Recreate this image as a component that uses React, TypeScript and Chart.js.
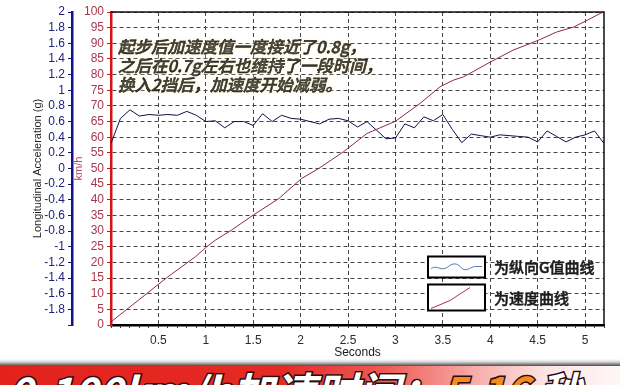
import React, { useEffect, useRef } from 'react';
import { Chart, registerables } from 'chart.js';

Chart.register(...registerables);

// Longitudinal acceleration samples (g), one every 0.1 s
const accelTimes = [
  0, 0.1, 0.2, 0.3, 0.4, 0.5, 0.6, 0.7, 0.8, 0.9,
  1.0, 1.1, 1.2, 1.3, 1.4, 1.5, 1.6, 1.7, 1.8, 1.9,
  2.0, 2.1, 2.2, 2.3, 2.4, 2.5, 2.6, 2.7, 2.8, 2.9,
  3.0, 3.1, 3.2, 3.3, 3.4, 3.5, 3.6, 3.7, 3.8, 3.9,
  4.0, 4.1, 4.2, 4.3, 4.4, 4.5, 4.6, 4.7, 4.8, 4.9,
  5.0, 5.1, 5.2,
];
const accelValues = [
  0.32, 0.64, 0.75, 0.67, 0.69, 0.68, 0.69, 0.68, 0.73, 0.68,
  0.60, 0.61, 0.52, 0.60, 0.60, 0.55, 0.70, 0.60, 0.68, 0.64,
  0.63, 0.60, 0.57, 0.63, 0.64, 0.61, 0.53, 0.60, 0.49, 0.38,
  0.39, 0.57, 0.52, 0.66, 0.61, 0.69, 0.50, 0.33, 0.44, 0.42,
  0.40, 0.43, 0.42, 0.41, 0.40, 0.34, 0.48, 0.41, 0.34, 0.40,
  0.43, 0.48, 0.32,
];

// Vehicle speed (km/h) against time (s)
const speedTimes = [
  0, 0.38, 0.6, 0.89, 1.01, 1.1, 1.27, 1.5, 1.77, 2.01, 2.19, 2.45,
  2.7, 2.8, 3.0, 3.26, 3.47, 3.61, 3.72, 4.0, 4.24, 4.51, 4.7, 4.88, 5.02, 5.19,
];
const speedValues = [
  1, 10.1, 15.4, 21.8, 25.0, 27.1, 30.3, 35.1, 40.4, 46.8, 50.0, 55.3,
  61.2, 62.5, 65.1, 70.8, 76.1, 78.2, 79.3, 84.0, 87.8, 91.0, 93.6, 95.2, 97.3, 100,
];

const xTitle = 'Seconds';
const accelTitle = 'Longitudinal Acceleration (g)';
const speedTitle = 'km/h';

const noteLines = [
  '起步后加速度值一度接近了0.8g，',
  '之后在0.7g左右也维持了一段时间，',
  '换入2挡后，加速度开始减弱。',
];
const legendLabels = ['为纵向G值曲线', '为速度曲线'];

const bannerLead = '0-100km/h加速时间：';
const bannerValue = '5.16';
const bannerUnit = '秒';

const FONT = '"Liberation Sans", Arial, sans-serif';
const CJK = '"Noto Sans CJK SC", sans-serif';

const isHalfStep = (v: number) => Math.abs(v * 2 - Math.round(v * 2)) < 1e-6;

const overlayPlugin = {
  id: 'overlay',
  afterDraw(chart: any) {
    const { ctx, chartArea: a } = chart;
    ctx.save();

    // top and right frame of the plot
    ctx.strokeStyle = '#111';
    ctx.lineWidth = 1.5;
    ctx.beginPath();
    ctx.moveTo(a.left, a.top);
    ctx.lineTo(a.right, a.top);
    ctx.lineTo(a.right, a.bottom);
    ctx.stroke();

    // commentary block
    ctx.font = `italic 500 16.5px ${CJK}`;
    ctx.textBaseline = 'middle';
    ctx.textAlign = 'left';
    ctx.shadowColor = 'rgba(255, 246, 200, 0.9)';
    ctx.shadowBlur = 4;
    ctx.fillStyle = '#141414';
    ctx.strokeStyle = '#141414';
    ctx.lineWidth = 0.45;
    noteLines.forEach((t, i) => {
      const y = a.top + 34.5 + i * 19;
      ctx.fillText(t, a.left + 7, y);
      ctx.strokeText(t, a.left + 7, y);
    });
    ctx.shadowBlur = 0;
    ctx.shadowColor = 'transparent';

    // legend key boxes
    const bx = a.left + 317;
    const bw = 57;
    const boxes = [
      { y: a.top + 244.5, h: 21 },
      { y: a.top + 272.5, h: 26 },
    ];
    boxes.forEach((b, i) => {
      ctx.fillStyle = '#fff';
      ctx.fillRect(bx, b.y, bw, b.h);
      ctx.strokeStyle = '#000';
      ctx.lineWidth = 2;
      ctx.strokeRect(bx, b.y, bw, b.h);

      ctx.lineWidth = 1;
      if (i === 0) {
        const cy = b.y + 11;
        ctx.strokeStyle = '#4d7fb8';
        ctx.beginPath();
        ctx.moveTo(bx + 3, cy + 1);
        ctx.bezierCurveTo(bx + 9, cy - 3, bx + 13, cy + 4, bx + 19, cy);
        ctx.bezierCurveTo(bx + 25, cy - 5, bx + 29, cy - 5, bx + 34, cy + 1);
        ctx.bezierCurveTo(bx + 39, cy + 5, bx + 44, cy - 2, bx + 48, cy - 1);
        ctx.lineTo(bx + bw - 3, cy - 1);
        ctx.stroke();
      } else {
        ctx.strokeStyle = '#b03048';
        ctx.beginPath();
        ctx.moveTo(bx + 3, b.y + b.h - 2);
        ctx.lineTo(bx + 22, b.y + b.h - 10);
        ctx.lineTo(bx + 42, b.y + 3);
        ctx.stroke();
      }

      ctx.font = `500 15px ${CJK}`;
      ctx.fillStyle = '#1c1c1c';
      ctx.strokeStyle = '#1c1c1c';
      ctx.lineWidth = 0.5;
      ctx.textBaseline = 'middle';
      ctx.fillText(legendLabels[i], bx + bw + 9, b.y + b.h / 2 + 0.5);
      ctx.strokeText(legendLabels[i], bx + bw + 9, b.y + b.h / 2 + 0.5);
    });

    ctx.restore();
  },
};

export default function App() {
  const canvasRef = useRef<HTMLCanvasElement | null>(null);

  useEffect(() => {
    const canvas = canvasRef.current;
    if (!canvas) return;

    const chart = new Chart(canvas, {
      type: 'line',
      data: {
        datasets: [
          {
            label: legendLabels[0],
            data: accelTimes.map((t, i) => ({ x: t, y: accelValues[i] })),
            yAxisID: 'accel',
            borderColor: '#10104a',
            borderWidth: 1,
            pointRadius: 0,
            tension: 0,
          },
          {
            label: legendLabels[1],
            data: speedTimes.map((t, i) => ({ x: t, y: speedValues[i] })),
            yAxisID: 'speed',
            borderColor: '#8c2a4a',
            borderWidth: 1,
            pointRadius: 0,
            tension: 0,
          },
        ],
      },
      options: {
        responsive: false,
        animation: false,
        events: [],
        layout: { padding: { left: 0, top: 12, right: 16, bottom: 25 } },
        plugins: {
          legend: { display: false },
          tooltip: { enabled: false },
        },
        scales: {
          x: {
            type: 'linear',
            min: 0,
            max: 5.2,
            afterFit: (s: any) => {
              s.height = 35;
            },
            ticks: {
              stepSize: 0.1,
              autoSkip: false,
              maxRotation: 0,
              padding: 5,
              color: '#2a2a2a',
              font: { family: FONT, size: 12 },
              callback: (v: any) => {
                const n = Number(v);
                if (n === 0 || !isHalfStep(n)) return '';
                return String(Math.round(n * 10) / 10);
              },
            },
            grid: {
              color: (c: any) =>
                c.tick && isHalfStep(c.tick.value) ? '#444' : 'transparent',
              lineWidth: 1,
              tickColor: '#333',
              tickLength: 3,
            },
            border: { color: '#000', width: 2.5, dash: [4, 3] },
            title: {
              display: true,
              text: xTitle,
              color: '#1a1a1a',
              font: { family: FONT, size: 12 },
              padding: { top: 0, bottom: 0 },
            },
          },
          speed: {
            type: 'linear',
            position: 'left',
            weight: 0,
            min: 0,
            max: 100,
            afterFit: (s: any) => {
              s.width = 39;
            },
            ticks: {
              stepSize: 5,
              autoSkip: false,
              padding: 3,
              color: '#a8384c',
              font: { family: FONT, size: 12 },
            },
            grid: {
              color: '#444',
              lineWidth: 1,
              tickColor: '#d01818',
              tickLength: 4,
            },
            border: { color: '#d41414', width: 2.5, dash: [4, 3] },
            title: {
              display: true,
              text: speedTitle,
              color: '#b04458',
              font: { family: FONT, size: 11 },
              padding: { top: 0, bottom: 0 },
            },
          },
          accel: {
            type: 'linear',
            position: 'left',
            weight: 1,
            min: -2,
            max: 2,
            afterFit: (s: any) => {
              s.width = 72;
            },
            ticks: {
              stepSize: 0.2,
              autoSkip: false,
              padding: 3,
              color: '#23237a',
              font: { family: FONT, size: 12 },
              callback: (v: any) => {
                const n = Math.round(Number(v) * 10) / 10;
                if (n === -2) return '';
                return String(n);
              },
            },
            grid: {
              drawOnChartArea: false,
              color: '#14148c',
              tickColor: '#14148c',
              tickLength: 4,
            },
            border: { color: '#12128a', width: 2.5 },
            title: {
              display: true,
              text: accelTitle,
              color: '#1f1f1f',
              font: { family: FONT, size: 11 },
              padding: { top: 31, bottom: 0 },
            },
          },
        },
      },
      plugins: [overlayPlugin],
    } as any);

    return () => chart.destroy();
  }, []);

  const stroke: React.CSSProperties = {
    WebkitTextStroke: '3px #2a0c0c',
    paintOrder: 'stroke fill',
  } as React.CSSProperties;

  return (
    <div
      style={{
        position: 'fixed',
        left: 0,
        top: 0,
        width: 620,
        height: 385,
        background: '#fff',
        overflow: 'hidden',
      }}
    >
      <canvas
        ref={canvasRef}
        width={620}
        height={385}
        style={{ display: 'block', position: 'absolute', left: 0, top: 0 }}
      />
      <div
        style={{
          position: 'absolute',
          left: 0,
          top: 359,
          width: 620,
          height: 26,
          overflow: 'hidden',
        }}
      >
        <div
          style={{
            position: 'absolute',
            left: 0,
            top: 0,
            width: 620,
            height: 7,
            background: 'linear-gradient(#ffffff, #d8d8d8 40%, #4a4a4a)',
          }}
        />
        <div
          style={{
            position: 'absolute',
            left: 0,
            top: 7,
            width: 620,
            height: 19,
            background:
              'linear-gradient(90deg, #e3221d 0%, #e52a24 45%, #ee5a55 62%, #f7a9a6 76%, #fde4e3 88%, #fff6f6 100%)',
          }}
        />
        <div
          style={{
            position: 'absolute',
            left: 8,
            top: 10,
            whiteSpace: 'nowrap',
            fontFamily: CJK,
            fontWeight: 'bold',
            fontStyle: 'italic',
            fontSize: 42,
            lineHeight: '42px',
            color: '#ffffff',
            ...stroke,
          }}
        >
          <span>{bannerLead}</span>
          <span style={{ color: '#f58a1e' }}>{bannerValue}</span>
          <span> {bannerUnit}</span>
        </div>
      </div>
    </div>
  );
}
